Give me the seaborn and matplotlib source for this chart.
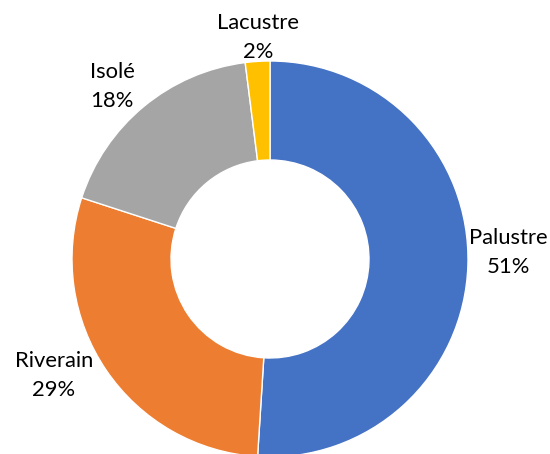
import matplotlib
matplotlib.use('Agg')
import matplotlib.pyplot as plt
import seaborn as sns

categories = ['Palustre', 'Riverain', 'Isolé', 'Lacustre']
shares = [51, 29, 18, 2]
colors = ['#4472C4', '#ED7D31', '#A5A5A5', '#FFC000']

sns.set_style('white')
plt.rcParams['font.family'] = ['Lato', 'DejaVu Sans']

W, H = 550, 454
cx, cy, r = 270, 259, 198  # donut centre and radius, in pixels

fig = plt.figure(figsize=(W / 100, H / 100), dpi=100)
ax = fig.add_axes([0, 0, 1, 1])
ax.pie(shares, colors=colors, startangle=90, counterclock=False,
       wedgeprops=dict(width=0.5, edgecolor='white', linewidth=1))
ax.set_xlim(-cx / r, (W - cx) / r)
ax.set_ylim(-(H - cy) / r, cy / r)
ax.set_aspect('equal')
ax.axis('off')

# label x centre and baseline of the percentage line (pixels)
label_pos = [(508, 273), (54, 396), (112, 107), (258, 58)]
for name, val, (px, py) in zip(categories, shares, label_pos):
    x = (px - cx) / r
    ax.text(x, (cy - py) / r, f'{val}%', ha='center', va='baseline',
            fontsize=15.8, color='black')
    ax.text(x, (cy - py + 29) / r, name, ha='center', va='baseline',
            fontsize=15.8, color='black')

fig.savefig('out.png', dpi=100)
